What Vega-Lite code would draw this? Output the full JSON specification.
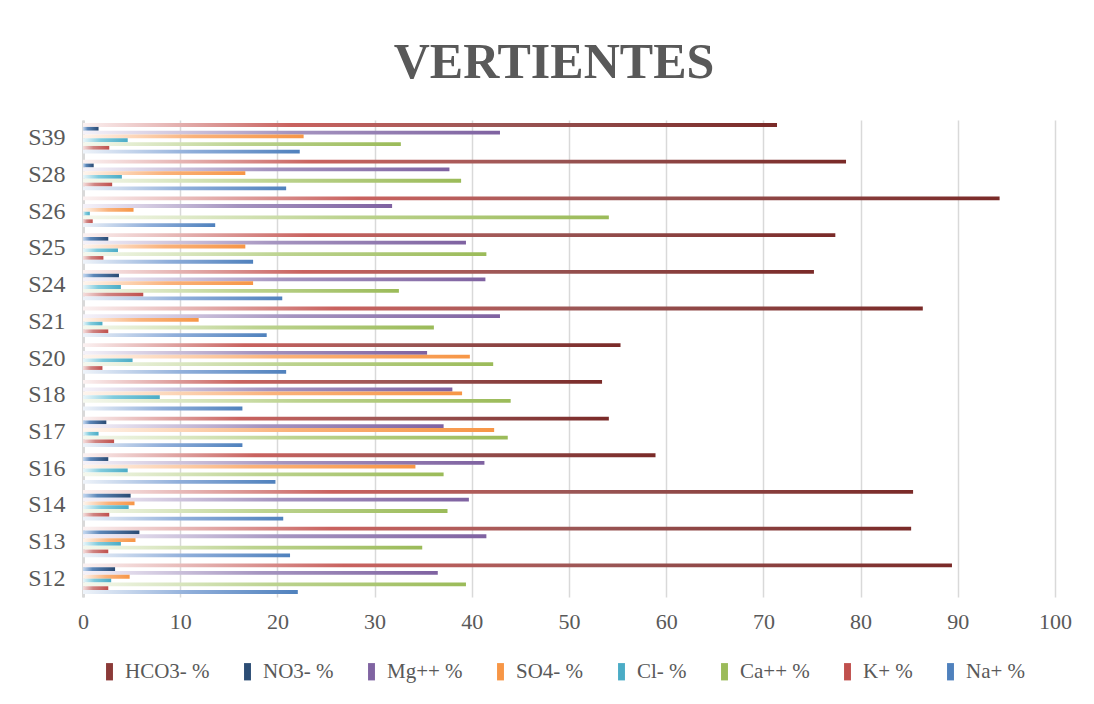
{
  "$schema": "https://vega.github.io/schema/vega-lite/v6.json",
  "width": 972,
  "height": 477,
  "autosize": "none",
  "padding": {"left": 83, "top": 120, "right": 39, "bottom": 107},
  "background": "white",
  "title": {"text": "VERTIENTES", "font": "Liberation Serif", "fontSize": 50, "fontWeight": "bold", "color": "#595959", "anchor": "middle", "offset": 42, "baseline": "alphabetic", "dx": -15, "dy": 50},
  "config": {"view": {"stroke": null}, "font": "Liberation Serif"},
  "data": {"values": [
    {"s": "S39", "ion": "HCO3- %", "v": 71.4}, {"s": "S39", "ion": "NO3- %", "v": 1.6}, {"s": "S39", "ion": "Mg++ %", "v": 42.9}, {"s": "S39", "ion": "SO4- %", "v": 22.7}, {"s": "S39", "ion": "Cl- %", "v": 4.6}, {"s": "S39", "ion": "Ca++ %", "v": 32.7}, {"s": "S39", "ion": "K+ %", "v": 2.7}, {"s": "S39", "ion": "Na+ %", "v": 22.3},
    {"s": "S28", "ion": "HCO3- %", "v": 78.5}, {"s": "S28", "ion": "NO3- %", "v": 1.1}, {"s": "S28", "ion": "Mg++ %", "v": 37.7}, {"s": "S28", "ion": "SO4- %", "v": 16.7}, {"s": "S28", "ion": "Cl- %", "v": 4.0}, {"s": "S28", "ion": "Ca++ %", "v": 38.9}, {"s": "S28", "ion": "K+ %", "v": 3.0}, {"s": "S28", "ion": "Na+ %", "v": 20.9},
    {"s": "S26", "ion": "HCO3- %", "v": 94.3}, {"s": "S26", "ion": "NO3- %", "v": 0}, {"s": "S26", "ion": "Mg++ %", "v": 31.8}, {"s": "S26", "ion": "SO4- %", "v": 5.2}, {"s": "S26", "ion": "Cl- %", "v": 0.7}, {"s": "S26", "ion": "Ca++ %", "v": 54.1}, {"s": "S26", "ion": "K+ %", "v": 1.0}, {"s": "S26", "ion": "Na+ %", "v": 13.6},
    {"s": "S25", "ion": "HCO3- %", "v": 77.4}, {"s": "S25", "ion": "NO3- %", "v": 2.6}, {"s": "S25", "ion": "Mg++ %", "v": 39.4}, {"s": "S25", "ion": "SO4- %", "v": 16.7}, {"s": "S25", "ion": "Cl- %", "v": 3.6}, {"s": "S25", "ion": "Ca++ %", "v": 41.5}, {"s": "S25", "ion": "K+ %", "v": 2.1}, {"s": "S25", "ion": "Na+ %", "v": 17.5},
    {"s": "S24", "ion": "HCO3- %", "v": 75.2}, {"s": "S24", "ion": "NO3- %", "v": 3.7}, {"s": "S24", "ion": "Mg++ %", "v": 41.4}, {"s": "S24", "ion": "SO4- %", "v": 17.5}, {"s": "S24", "ion": "Cl- %", "v": 3.9}, {"s": "S24", "ion": "Ca++ %", "v": 32.5}, {"s": "S24", "ion": "K+ %", "v": 6.2}, {"s": "S24", "ion": "Na+ %", "v": 20.5},
    {"s": "S21", "ion": "HCO3- %", "v": 86.4}, {"s": "S21", "ion": "NO3- %", "v": 0}, {"s": "S21", "ion": "Mg++ %", "v": 42.9}, {"s": "S21", "ion": "SO4- %", "v": 11.9}, {"s": "S21", "ion": "Cl- %", "v": 2.0}, {"s": "S21", "ion": "Ca++ %", "v": 36.1}, {"s": "S21", "ion": "K+ %", "v": 2.6}, {"s": "S21", "ion": "Na+ %", "v": 18.9},
    {"s": "S20", "ion": "HCO3- %", "v": 55.3}, {"s": "S20", "ion": "NO3- %", "v": 0}, {"s": "S20", "ion": "Mg++ %", "v": 35.4}, {"s": "S20", "ion": "SO4- %", "v": 39.8}, {"s": "S20", "ion": "Cl- %", "v": 5.1}, {"s": "S20", "ion": "Ca++ %", "v": 42.2}, {"s": "S20", "ion": "K+ %", "v": 2.0}, {"s": "S20", "ion": "Na+ %", "v": 20.9},
    {"s": "S18", "ion": "HCO3- %", "v": 53.4}, {"s": "S18", "ion": "NO3- %", "v": 0}, {"s": "S18", "ion": "Mg++ %", "v": 38.0}, {"s": "S18", "ion": "SO4- %", "v": 39.0}, {"s": "S18", "ion": "Cl- %", "v": 7.9}, {"s": "S18", "ion": "Ca++ %", "v": 44.0}, {"s": "S18", "ion": "K+ %", "v": 0}, {"s": "S18", "ion": "Na+ %", "v": 16.4},
    {"s": "S17", "ion": "HCO3- %", "v": 54.1}, {"s": "S17", "ion": "NO3- %", "v": 2.4}, {"s": "S17", "ion": "Mg++ %", "v": 37.1}, {"s": "S17", "ion": "SO4- %", "v": 42.3}, {"s": "S17", "ion": "Cl- %", "v": 1.6}, {"s": "S17", "ion": "Ca++ %", "v": 43.7}, {"s": "S17", "ion": "K+ %", "v": 3.2}, {"s": "S17", "ion": "Na+ %", "v": 16.4},
    {"s": "S16", "ion": "HCO3- %", "v": 58.9}, {"s": "S16", "ion": "NO3- %", "v": 2.6}, {"s": "S16", "ion": "Mg++ %", "v": 41.3}, {"s": "S16", "ion": "SO4- %", "v": 34.2}, {"s": "S16", "ion": "Cl- %", "v": 4.6}, {"s": "S16", "ion": "Ca++ %", "v": 37.1}, {"s": "S16", "ion": "K+ %", "v": 0}, {"s": "S16", "ion": "Na+ %", "v": 19.8},
    {"s": "S14", "ion": "HCO3- %", "v": 85.4}, {"s": "S14", "ion": "NO3- %", "v": 4.9}, {"s": "S14", "ion": "Mg++ %", "v": 39.7}, {"s": "S14", "ion": "SO4- %", "v": 5.3}, {"s": "S14", "ion": "Cl- %", "v": 4.7}, {"s": "S14", "ion": "Ca++ %", "v": 37.5}, {"s": "S14", "ion": "K+ %", "v": 2.7}, {"s": "S14", "ion": "Na+ %", "v": 20.6},
    {"s": "S13", "ion": "HCO3- %", "v": 85.2}, {"s": "S13", "ion": "NO3- %", "v": 5.8}, {"s": "S13", "ion": "Mg++ %", "v": 41.5}, {"s": "S13", "ion": "SO4- %", "v": 5.4}, {"s": "S13", "ion": "Cl- %", "v": 3.9}, {"s": "S13", "ion": "Ca++ %", "v": 34.9}, {"s": "S13", "ion": "K+ %", "v": 2.6}, {"s": "S13", "ion": "Na+ %", "v": 21.3},
    {"s": "S12", "ion": "HCO3- %", "v": 89.4}, {"s": "S12", "ion": "NO3- %", "v": 3.3}, {"s": "S12", "ion": "Mg++ %", "v": 36.5}, {"s": "S12", "ion": "SO4- %", "v": 4.8}, {"s": "S12", "ion": "Cl- %", "v": 2.9}, {"s": "S12", "ion": "Ca++ %", "v": 39.4}, {"s": "S12", "ion": "K+ %", "v": 2.6}, {"s": "S12", "ion": "Na+ %", "v": 22.1}
  ]},
  "encoding": {
    "y": {"field": "s", "type": "nominal", "sort": ["S39", "S28", "S26", "S25", "S24", "S21", "S20", "S18", "S17", "S16", "S14", "S13", "S12"],
      "scale": {"paddingInner": 0.17, "paddingOuter": 0.085},
      "axis": {"title": null, "labelFont": "Liberation Serif", "labelFontSize": 24, "labelColor": "#595959", "ticks": false, "domainColor": "#D9D9D9", "domainWidth": 3, "labelPadding": 18, "grid": false}},
    "yOffset": {"field": "ion", "type": "nominal", "scale": {"domain": ["HCO3- %", "NO3- %", "Mg++ %", "SO4- %", "Cl- %", "Ca++ %", "K+ %", "Na+ %"], "paddingInner": 0, "paddingOuter": 0}},
    "x": {"field": "v", "type": "quantitative", "scale": {"domain": [0, 100], "nice": false},
      "axis": {"title": null, "values": [0, 10, 20, 30, 40, 50, 60, 70, 80, 90, 100], "labelFont": "Liberation Serif", "labelFontSize": 22, "labelColor": "#595959", "ticks": false, "domain": false, "gridColor": "#D9D9D9", "gridWidth": 1.5, "labelPadding": 14, "labelFlush": false}}
  },
  "layer": [
    {"mark": {"type": "bar", "opacity": 0},
     "encoding": {"color": {"field": "ion", "type": "nominal",
       "scale": {"domain": ["HCO3- %", "NO3- %", "Mg++ %", "SO4- %", "Cl- %", "Ca++ %", "K+ %", "Na+ %"], "range": ["#8B3A38", "#2C4D75", "#8064A2", "#F79646", "#4BACC6", "#9BBB59", "#C0504D", "#4F81BD"]},
       "legend": {"orient": "none", "legendX": 16, "legendY": 541, "direction": "horizontal", "columns": 8, "title": null, "symbolType": "M-0.4,-1H0.4V1H-0.4Z", "symbolSize": 300, "symbolOpacity": 1, "symbolStrokeWidth": 0, "labelFontSize": 21, "labelFont": "Liberation Serif", "labelColor": "#595959", "columnPadding": 27, "labelOffset": 5, "labelLimit": 200}}}},
    {"transform": [{"filter": {"field": "ion", "equal": "HCO3- %"}}],
     "mark": {"type": "bar", "color": {"gradient": "linear", "x1": 0, "y1": 0, "x2": 1, "y2": 0, "stops": [{"offset": 0, "color": "#FBF1F1"}, {"offset": 0.3, "color": "#C9625F"}, {"offset": 0.6, "color": "#9A5655"}, {"offset": 1, "color": "#7A2A28"}]}}},
    {"transform": [{"filter": {"field": "ion", "equal": "NO3- %"}}],
     "mark": {"type": "bar", "color": {"gradient": "linear", "x1": 0, "y1": 0, "x2": 1, "y2": 0, "stops": [{"offset": 0, "color": "#C6D9F1"}, {"offset": 0.3, "color": "#5B86B8"}, {"offset": 1, "color": "#2A4A73"}]}}},
    {"transform": [{"filter": {"field": "ion", "equal": "Mg++ %"}}],
     "mark": {"type": "bar", "color": {"gradient": "linear", "x1": 0, "y1": 0, "x2": 1, "y2": 0, "stops": [{"offset": 0, "color": "#F5F2F9"}, {"offset": 0.5, "color": "#A594C0"}, {"offset": 1, "color": "#7F62A1"}]}}},
    {"transform": [{"filter": {"field": "ion", "equal": "SO4- %"}}],
     "mark": {"type": "bar", "color": {"gradient": "linear", "x1": 0, "y1": 0, "x2": 1, "y2": 0, "stops": [{"offset": 0, "color": "#FEF5EE"}, {"offset": 0.5, "color": "#FAB27A"}, {"offset": 1, "color": "#F79646"}]}}},
    {"transform": [{"filter": {"field": "ion", "equal": "Cl- %"}}],
     "mark": {"type": "bar", "color": {"gradient": "linear", "x1": 0, "y1": 0, "x2": 1, "y2": 0, "stops": [{"offset": 0, "color": "#EAF6FA"}, {"offset": 0.4, "color": "#7FCBDD"}, {"offset": 1, "color": "#4BACC6"}]}}},
    {"transform": [{"filter": {"field": "ion", "equal": "Ca++ %"}}],
     "mark": {"type": "bar", "color": {"gradient": "linear", "x1": 0, "y1": 0, "x2": 1, "y2": 0, "stops": [{"offset": 0, "color": "#F5F8EE"}, {"offset": 0.5, "color": "#BCD38F"}, {"offset": 1, "color": "#9BBB59"}]}}},
    {"transform": [{"filter": {"field": "ion", "equal": "K+ %"}}],
     "mark": {"type": "bar", "color": {"gradient": "linear", "x1": 0, "y1": 0, "x2": 1, "y2": 0, "stops": [{"offset": 0, "color": "#F5DEDD"}, {"offset": 0.4, "color": "#D08482"}, {"offset": 1, "color": "#C0504D"}]}}},
    {"transform": [{"filter": {"field": "ion", "equal": "Na+ %"}}],
     "mark": {"type": "bar", "color": {"gradient": "linear", "x1": 0, "y1": 0, "x2": 1, "y2": 0, "stops": [{"offset": 0, "color": "#EEF3F9"}, {"offset": 0.5, "color": "#8FAEDA"}, {"offset": 1, "color": "#4F81BD"}]}}}
  ]
}
